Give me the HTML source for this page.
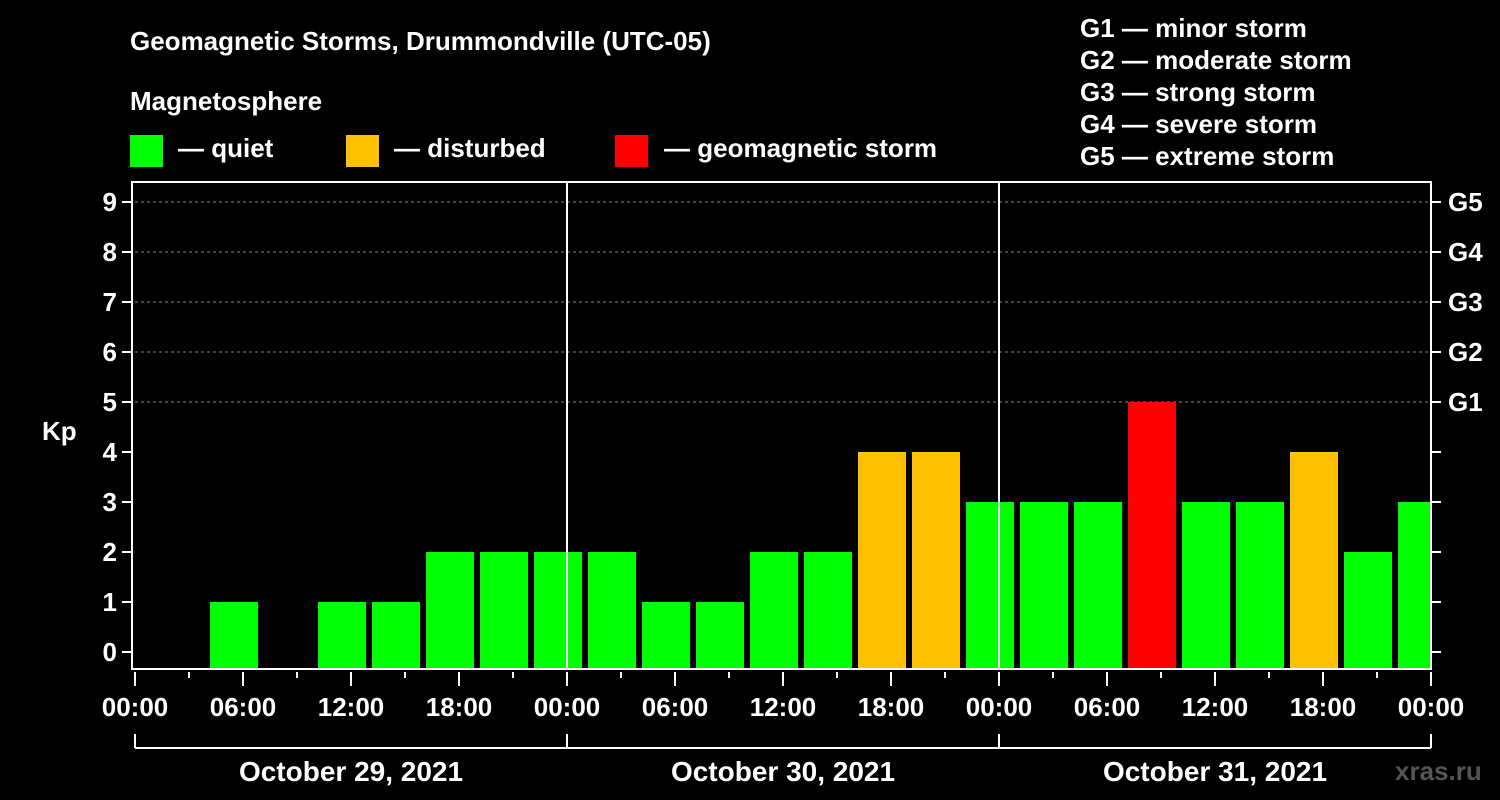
<!DOCTYPE html>
<html><head><meta charset="utf-8"><style>
body{margin:0;background:#000;width:1500px;height:800px;overflow:hidden}
svg{display:block;font-family:"Liberation Sans",Arial,sans-serif;font-weight:bold}
</style></head><body>
<svg id="chart" width="1500" height="800">
<g fill="#fff" font-size="26">
<text x="130" y="50">Geomagnetic Storms, Drummondville (UTC-05)</text>
<text x="130" y="110">Magnetosphere</text>
<rect x="130" y="135" width="33" height="32" fill="#00ff00"/>
<text x="178" y="157">— quiet</text>
<rect x="346" y="135" width="33" height="32" fill="#ffc000"/>
<text x="394" y="157">— disturbed</text>
<rect x="615" y="135" width="33" height="32" fill="#ff0000"/>
<text x="664" y="157">— geomagnetic storm</text>
<text x="1080" y="37">G1 — minor storm</text>
<text x="1080" y="69">G2 — moderate storm</text>
<text x="1080" y="101">G3 — strong storm</text>
<text x="1080" y="133">G4 — severe storm</text>
<text x="1080" y="165">G5 — extreme storm</text>
<text x="42" y="440">Kp</text>
<text x="1395" y="780" fill="#555" font-size="26">xras.ru</text>
</g>
<g id="plot"></g>
</svg>
<script>
const kpValues=[0,1,0,1,1,2,2,2,2,1,1,2,2,4,4,3,3,3,5,3,3,4,2,3];
const dayLabels=["October 29, 2021","October 30, 2021","October 31, 2021"];
const hourLabels=["00:00","06:00","12:00","18:00"];
const gLabels=["G1","G2","G3","G4","G5"];
const yTicks=[0,1,2,3,4,5,6,7,8,9];
const L=135,R=1431,T=182,B=669,day=432;
const X=h=>L+h*(day/24);
const Y=v=>652-v*50;
const ns="http://www.w3.org/2000/svg",g=document.getElementById('plot');
function mk(t,a,txt){const e=document.createElementNS(ns,t);for(const k in a)e.setAttribute(k,a[k]);if(txt!==undefined)e.textContent=txt;g.appendChild(e);return e;}
// grid
for(let v=5;v<=9;v++){const e=mk('line',{x1:L,x2:R,y1:Y(v),y2:Y(v),stroke:'#888','stroke-dasharray':'3,3','stroke-width':1});

}
// bars
kpValues.forEach((v,i)=>{if(v<=0)return;const x=X(i*3)+21;const w=Math.min(48,R-x);
const c=v>=5?'#ff0000':v>=4?'#ffc000':'#00ff00';
const e=mk('rect',{x:x,y:Y(v),width:w,height:B-Y(v),fill:c});

});
// frame
const f=mk('rect',{x:132,y:T,width:R-132,height:B-T,fill:'none',stroke:'#fff','stroke-width':2});


for(let d=1;d<3;d++){const e=mk('line',{x1:X(d*24),x2:X(d*24),y1:T,y2:B,stroke:'#fff','stroke-width':2});

}
// y ticks
yTicks.forEach(v=>{mk('line',{x1:122,x2:132,y1:Y(v),y2:Y(v),stroke:'#fff','stroke-width':2});
mk('line',{x1:R,x2:R+10,y1:Y(v),y2:Y(v),stroke:'#fff','stroke-width':2});
const t=mk('text',{x:117,y:Y(v)+9,fill:'#fff','font-size':26,'text-anchor':'end'},String(v));

});
gLabels.forEach((s,i)=>{const t=mk('text',{x:1448,y:Y(5+i)+9,fill:'#fff','font-size':26},s);

});
// x ticks
for(let h=0;h<=72;h+=3){const maj=h%6===0;
mk('line',{x1:X(h),x2:X(h),y1:672,y2:maj?686:678,stroke:'#fff','stroke-width':2});
if(maj){const t=mk('text',{x:X(h),y:716,fill:'#fff','font-size':26,'text-anchor':'middle'},hourLabels[(h%24)/6]);

}}
mk('line',{x1:X(0),x2:X(72),y1:748,y2:748,stroke:'#fff','stroke-width':2});
for(let d=0;d<=3;d++)mk('line',{x1:X(d*24),x2:X(d*24),y1:734,y2:748,stroke:'#fff','stroke-width':2});
dayLabels.forEach((s,d)=>{const t=mk('text',{x:X(d*24+12),y:781,fill:'#fff','font-size':28,'text-anchor':'middle'},s);

});
</script>
</body></html>
